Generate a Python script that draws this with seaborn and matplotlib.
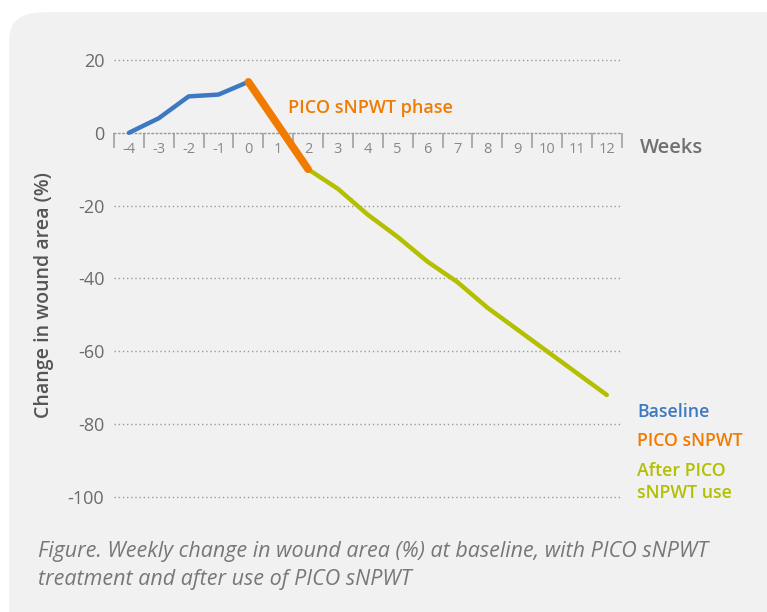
import matplotlib
matplotlib.use("Agg")
import matplotlib.pyplot as plt
from matplotlib.patches import FancyBboxPatch
import seaborn as sns

sns.set_style("white")
plt.rcParams["font.family"] = ["Open Sans", "DejaVu Sans"]

# data
baseline_weeks = [-4, -3, -2, -1, 0]
baseline_change = [0, 4, 10, 10.5, 14]
pico_weeks = [0, 1, 2]
pico_change = [14, 2, -10]
after_weeks = [2, 3, 4, 5, 6, 7, 8, 9, 10, 11, 12]
after_change = [-10, -15.4, -22.5, -28.6, -35.4, -41, -48, -54, -60, -66, -72]
week_labels = list(range(-4, 13))
y_ticks = [20, 0, -20, -40, -60, -80, -100]

blue = "#3d78c2"
orange = "#f07b00"
green = "#b3bf00"
grey = "#6b6b6b"

fig = plt.figure(figsize=(7.67, 6.12), dpi=100)
fig.patch.set_facecolor("white")
bg = FancyBboxPatch((0.012, -0.05), 1.05, 1.03, boxstyle="round,pad=0,rounding_size=0.045",
                    transform=fig.transFigure, facecolor="#f1f1f1", edgecolor="none", zorder=-10)
fig.patches.append(bg)

ax = fig.add_axes([0.1486, 0.188, 0.662, 0.714])
ax.set_facecolor("none")
ax.set_zorder(1)

sns.lineplot(x=baseline_weeks, y=baseline_change, ax=ax, color=blue, lw=3.2,
             solid_capstyle="round", zorder=3)
sns.lineplot(x=after_weeks, y=after_change, ax=ax, color=green, lw=3.2,
             solid_capstyle="round", zorder=3)
sns.lineplot(x=pico_weeks, y=pico_change, ax=ax, color=orange, lw=5.5,
             solid_capstyle="round", zorder=4)

ax.set_xlim(-4.5, 12.5)
ax.set_ylim(-100, 20)

# dotted gridlines
for v in y_ticks:
    if v != 0:
        ax.axhline(v, color="#999999", lw=1.0, ls=(0, (1, 2)), zorder=1, clip_on=False)

for s in ["top", "right", "left"]:
    ax.spines[s].set_visible(False)
ax.spines["bottom"].set_position(("data", 0))
ax.spines["bottom"].set_color("#999999")
ax.spines["bottom"].set_linestyle((0, (1, 2)))
ax.spines["bottom"].set_linewidth(1.0)

ax.set_yticks(y_ticks)
ax.set_yticklabels([str(v) for v in y_ticks], fontsize=13, color=grey)
ax.tick_params(axis="y", length=0, pad=7)

ax.set_xticks(week_labels)
ax.set_xticklabels([str(w) for w in week_labels], fontsize=10.5, color="#888888")
ax.set_xticks([w - 0.5 for w in week_labels] + [12.5], minor=True)
ax.tick_params(axis="x", which="major", length=0, pad=6.5)
ax.tick_params(axis="x", which="minor", length=10.5, width=1.1, color="#999999",
               direction="out", bottom=True)

ax.set_xlabel("")
ax.set_ylabel("")

fig.text(0.058, 0.518, "Change in wound area (%)", rotation=90, ha="center", va="center",
         fontsize=14, fontweight="semibold", color="#555555")
fig.text(0.834, 0.758, "Weeks", ha="left", va="center", fontsize=14.5,
         fontweight="semibold", color="#707070")
fig.text(0.375, 0.824, "PICO sNPWT phase", ha="left", va="center", fontsize=13,
         color=orange, fontweight="semibold")

fig.text(0.831, 0.326, "Baseline", ha="left", va="center", fontsize=12.8,
         color=blue, fontweight="semibold")
fig.text(0.831, 0.279, "PICO sNPWT", ha="left", va="center", fontsize=12.8,
         color=orange, fontweight="semibold")
fig.text(0.831, 0.213, "After PICO\nsNPWT use", ha="left", va="center", fontsize=12.8,
         color=green, fontweight="semibold", linespacing=1.3)

fig.text(0.049, 0.076, "Figure. Weekly change in wound area (%) at baseline, with PICO sNPWT\n"
         "treatment and after use of PICO sNPWT", ha="left", va="center", fontsize=15.5,
         style="italic", color="#777777", linespacing=1.45)

fig.savefig("out.png", dpi=100)
